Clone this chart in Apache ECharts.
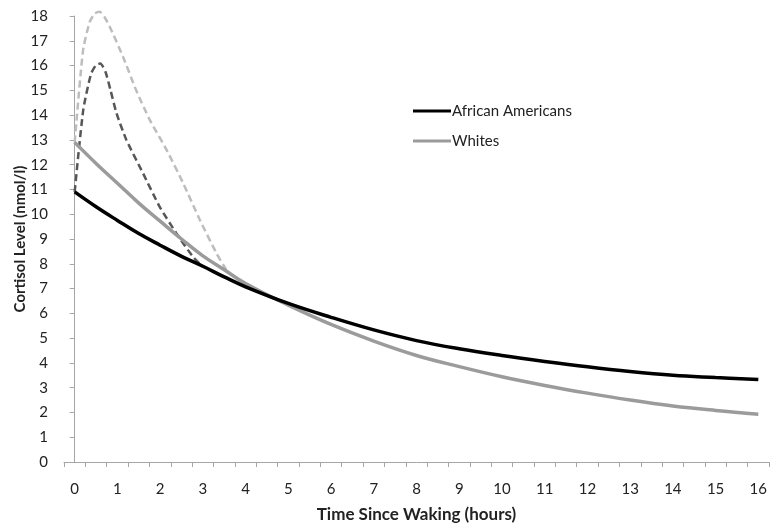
<!DOCTYPE html>
<html>
<head>
<meta charset="utf-8">
<script src="https://cdn.jsdelivr.net/npm/echarts@6/dist/echarts.min.js"></script>
<style>
  html, body { margin: 0; padding: 0; background: #fff; }
  #chart { width: 771px; height: 531px; }
</style>
</head>
<body>
<div id="chart"></div>
<script>
// solid curves, hours since waking
const hours = [0, 0.5, 1, 1.5, 2, 2.5, 3, 3.5, 4, 5, 6, 7, 8, 9, 10, 11, 12, 13, 14, 15, 16]
const africanAmericans = [10.9, 10.3, 9.75, 9.22, 8.75, 8.3, 7.9, 7.47, 7.07, 6.4, 5.84, 5.33, 4.9, 4.57, 4.3, 4.06, 3.84, 3.65, 3.5, 3.41, 3.33]
const whites = [12.9, 12.05, 11.25, 10.45, 9.72, 9.0, 8.32, 7.76, 7.2, 6.33, 5.55, 4.88, 4.3, 3.85, 3.44, 3.09, 2.78, 2.5, 2.26, 2.08, 1.93]

// dashed awakening response curves
const aaPeakHours = [0, 0.2, 0.38, 0.5, 0.6, 0.72, 0.84, 0.98, 1.21, 1.6, 1.99, 2.38, 2.77, 3.0]
const aaPeak = [10.9, 14.2, 15.65, 16.02, 16.08, 15.75, 15.0, 14.07, 13.0, 11.65, 10.3, 9.23, 8.28, 7.88]
const whPeakHours = [0, 0.195, 0.35, 0.47, 0.585, 0.7, 0.82, 1.13, 1.44, 1.76, 2.15, 2.54, 2.93, 3.32, 3.55]
const whPeak = [12.9, 16.6, 17.75, 18.1, 18.17, 17.95, 17.57, 16.36, 15.0, 13.8, 12.6, 11.25, 9.77, 8.42, 7.75]

const xLabels = [0, 1, 2, 3, 4, 5, 6, 7, 8, 9, 10, 11, 12, 13, 14, 15, 16]
// tick marks sit between the hour labels (excel category style)
const xTicks = []
for (let i = 0; i <= 33; i++) xTicks.push(-0.25 + i * 0.5)

function pairs(xs, ys) {
  return xs.map((x, i) => [x, ys[i]])
}

const font = 'Lato, "Open Sans", sans-serif'
const axisGrey = '#a6a6a6'

const chart = echarts.init(document.getElementById('chart'), null, { renderer: 'canvas' })

chart.setOption({
  backgroundColor: '#fff',
  animation: false,
  textStyle: { fontFamily: font },
  grid: { left: 64, right: 2, top: 16, bottom: 69, outerBoundsMode: 'none' },
  legend: {
    orient: 'vertical',
    left: 413,
    top: 102,
    padding: 0,
    icon: 'rect',
    itemWidth: 38,
    itemHeight: 3,
    itemGap: 12,
    textStyle: { fontFamily: font, fontSize: 15, color: '#222', lineHeight: 18, padding: [0, 0, 0, -4] },
    data: ['African Americans', 'Whites']
  },
  xAxis: {
    type: 'value',
    min: -0.25,
    max: 16.25,
    name: 'Time Since Waking (hours)',
    nameLocation: 'middle',
    nameGap: 44,
    nameMoveOverlap: false,
    nameTextStyle: { fontFamily: font, fontSize: 17, fontWeight: 'bold', color: '#222' },
    axisLine: { show: true, lineStyle: { color: axisGrey, width: 1 } },
    axisTick: { show: true, length: 5, customValues: xTicks, lineStyle: { color: axisGrey } },
    axisLabel: { customValues: xLabels, margin: 20, fontSize: 15, color: '#222', fontFamily: font },
    splitLine: { show: false }
  },
  yAxis: {
    type: 'value',
    min: 0,
    max: 18,
    interval: 1,
    name: 'Cortisol Level (nmol/l)',
    nameLocation: 'middle',
    nameGap: 36,
    nameMoveOverlap: false,
    nameTextStyle: { fontFamily: font, fontSize: 15, fontWeight: 'bold', color: '#222' },
    axisLine: { show: true, lineStyle: { color: axisGrey, width: 1 } },
    axisTick: { show: true, length: 5, lineStyle: { color: axisGrey } },
    axisLabel: { margin: 16, fontSize: 15, color: '#222', fontFamily: font },
    splitLine: { show: false }
  },
  series: [
    {
      name: 'peakWhites',
      type: 'line',
      data: pairs(whPeakHours, whPeak),
      smooth: 0.2,
      showSymbol: false,
      clip: false,
      lineStyle: { color: '#bdbdbd', width: 2.5, type: [7, 4] },
      z: 1
    },
    {
      name: 'peakAA',
      type: 'line',
      data: pairs(aaPeakHours, aaPeak),
      smooth: 0.2,
      showSymbol: false,
      clip: false,
      lineStyle: { color: '#575757', width: 2.5, type: [7, 4] },
      z: 1
    },
    {
      name: 'Whites',
      type: 'line',
      data: pairs(hours, whites),
      smooth: 0.4,
      showSymbol: false,
      itemStyle: { color: '#9b9b9b' },
      lineStyle: { color: '#9b9b9b', width: 3.5 },
      z: 2
    },
    {
      name: 'African Americans',
      type: 'line',
      data: pairs(hours, africanAmericans),
      smooth: 0.4,
      showSymbol: false,
      itemStyle: { color: '#000' },
      lineStyle: { color: '#000', width: 3.5 },
      z: 3
    }
  ]
})
</script>
</body>
</html>
